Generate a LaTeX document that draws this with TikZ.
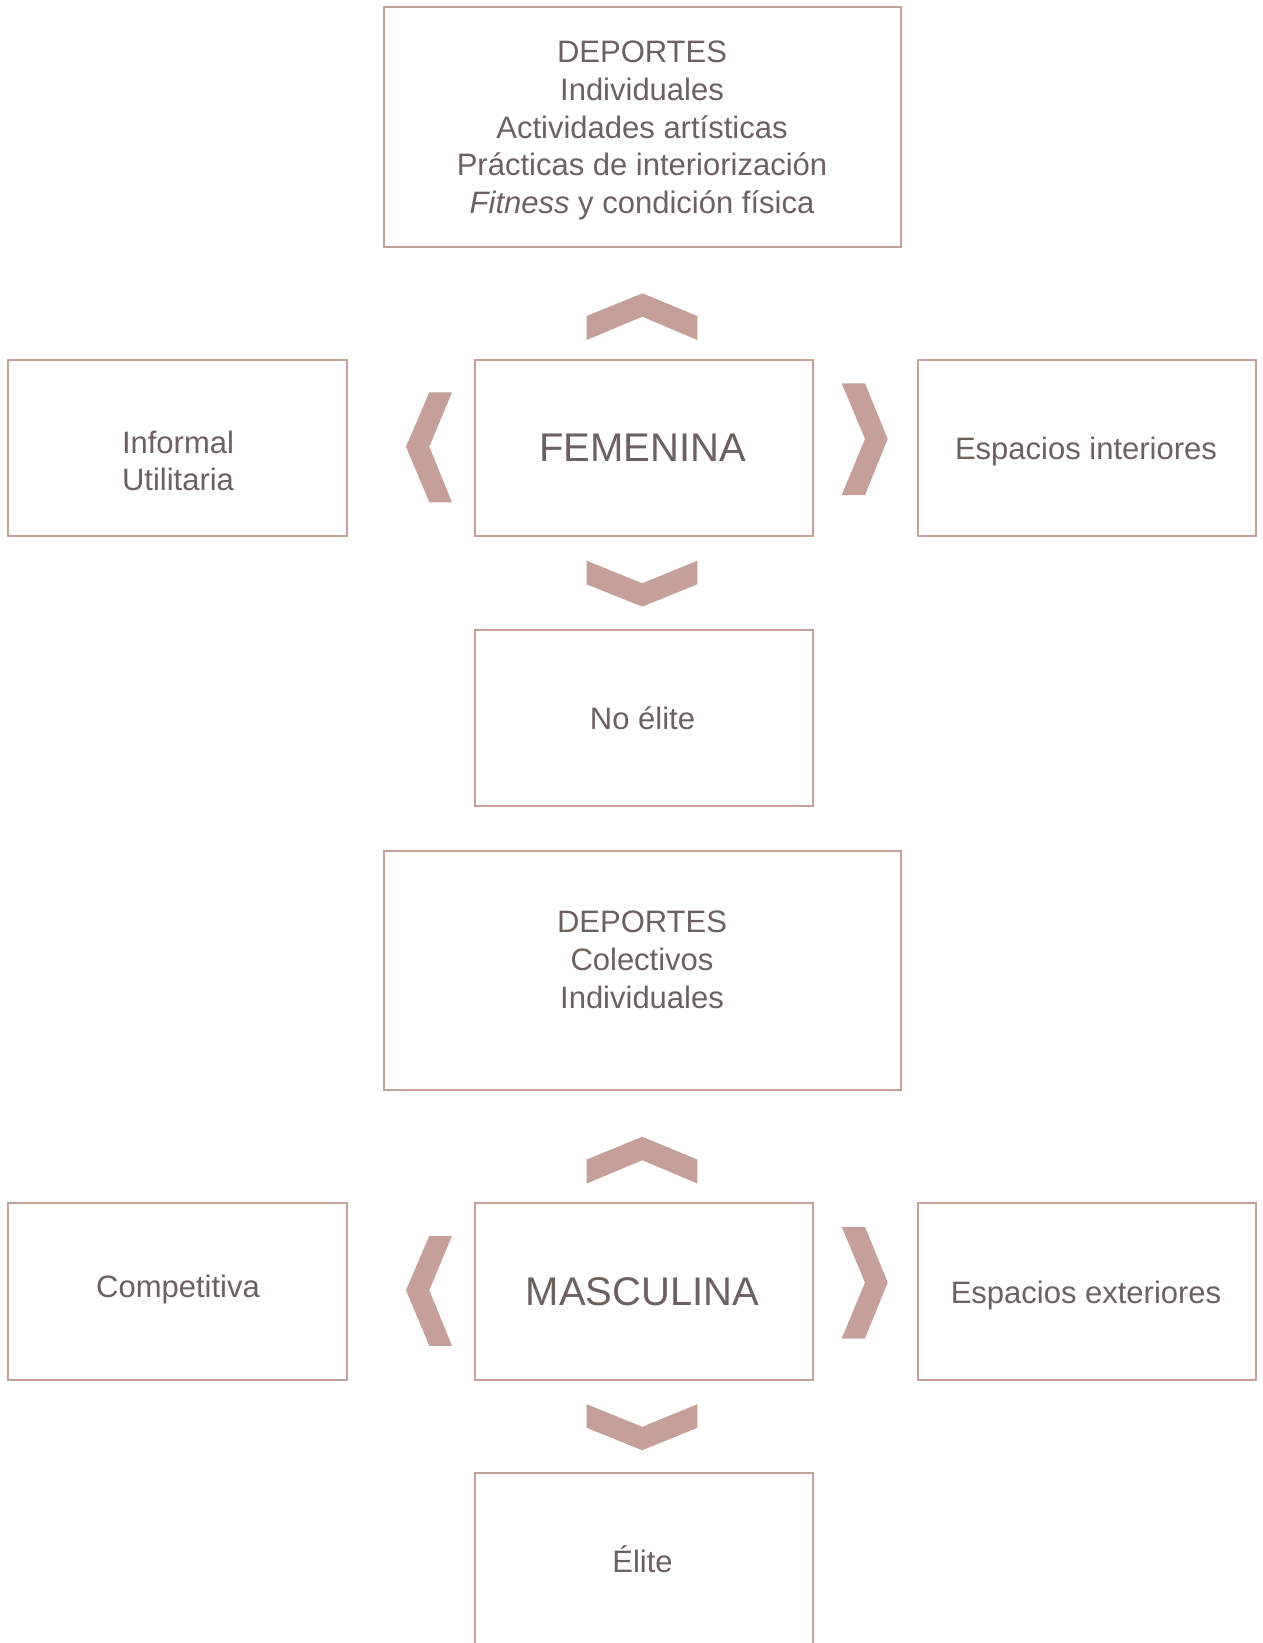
\documentclass[tikz,border=0pt]{standalone}
\usepackage{fontspec}
\setmainfont{Liberation Sans}
\definecolor{boxc}{HTML}{C4A19B}
\definecolor{chevc}{HTML}{C4A099}
\definecolor{txtc}{HTML}{6B615F}
\newcommand{\mychevrons}{%
  \fill[chev] (586.7,316) -- (642.3,293.3) -- (697.3,316) -- (697.3,340) -- (642.3,316.7) -- (586.7,340) -- cycle;
  \fill[chev] (429.3,392.3) -- (452,392.3) -- (429.3,446.7) -- (452,502.3) -- (429.3,502.3) -- (406,446.7) -- cycle;
  \fill[chev] (841.7,383.3) -- (865,383.3) -- (887.7,439) -- (865,495) -- (841.7,495) -- (865,439) -- cycle;
  \fill[chev] (586.7,560.7) -- (642.3,583.3) -- (697.3,560.7) -- (697.3,584.3) -- (642.3,606.7) -- (586.7,584.3) -- cycle;
}
\begin{document}
\begin{tikzpicture}[x=1pt,y=-1pt,
  box/.style={draw=boxc, line width=2pt, rectangle, inner sep=0pt, outer sep=0pt},
  chev/.style={fill=chevc},
  txt/.style={text=txtc, font=\fontsize{31}{37.7}\selectfont, inner sep=0pt, anchor=base},
  bigtxt/.style={text=txtc, font=\fontsize{40}{48}\selectfont, inner sep=0pt, anchor=base}]
\useasboundingbox (0,0) rectangle (1262,1643);
\clip (0,0) rectangle (1262,1643);
\fill[white] (0,0) rectangle (1262,1643);

% ---------- FEMENINA half ----------
\node[box, minimum width=517pt, minimum height=239pt] (dep1) at (642,127) {};
\node[box, minimum width=338.7pt, minimum height=176.5pt] (inf) at (177.65,447.75) {};
\node[box, minimum width=338pt, minimum height=176.5pt] (fem) at (643.5,447.75) {};
\node[box, minimum width=338pt, minimum height=176.5pt] (int) at (1086.5,447.75) {};
\node[box, minimum width=338pt, minimum height=176pt] (noel) at (643.5,717.5) {};

\node[txt] (dep1t) at (642,62.7) {\begin{tabular}[t]{@{}c@{}}DEPORTES\\ Individuales\\ Actividades artísticas\\ Prácticas de interiorización\\ \textit{Fitness} y condición física\end{tabular}};
\node[txt, font=\fontsize{31}{37.2}\selectfont] (inft) at (178,453.3) {\begin{tabular}[t]{@{}c@{}}Informal\\ Utilitaria\end{tabular}};
\node[bigtxt] (femt) at (642.5,461.7) {FEMENINA};
\node[txt] (intt) at (1086,459.5) {Espacios interiores};
\node[txt] (noelt) at (642.5,729.3) {No élite};

\mychevrons

% ---------- MASCULINA half ----------
\node[box, minimum width=517pt, minimum height=239pt] (dep2) at (642,970.5) {};
\node[box, minimum width=338.7pt, minimum height=176.5pt] (comp) at (177.65,1291.25) {};
\node[box, minimum width=338pt, minimum height=176.5pt] (masc) at (643.5,1291.25) {};
\node[box, minimum width=338pt, minimum height=176.5pt] (ext) at (1086.5,1291.25) {};
\node[box, minimum width=338pt, minimum height=176pt] (elite) at (643.5,1561) {};

\node[txt, font=\fontsize{31}{38.2}\selectfont] (dep2t) at (642,932) {\begin{tabular}[t]{@{}c@{}}DEPORTES\\ Colectivos\\ Individuales\end{tabular}};
\node[txt] (compt) at (178,1297.5) {Competitiva};
\node[bigtxt] (masct) at (642.5,1305.2) {MASCULINA};
\node[txt] (extt) at (1086,1303) {Espacios exteriores};
\node[txt] (elitet) at (642.5,1572.7) {Élite};

\begin{scope}[shift={(0,843.5)}]
\mychevrons
\end{scope}
\end{tikzpicture}
\end{document}
